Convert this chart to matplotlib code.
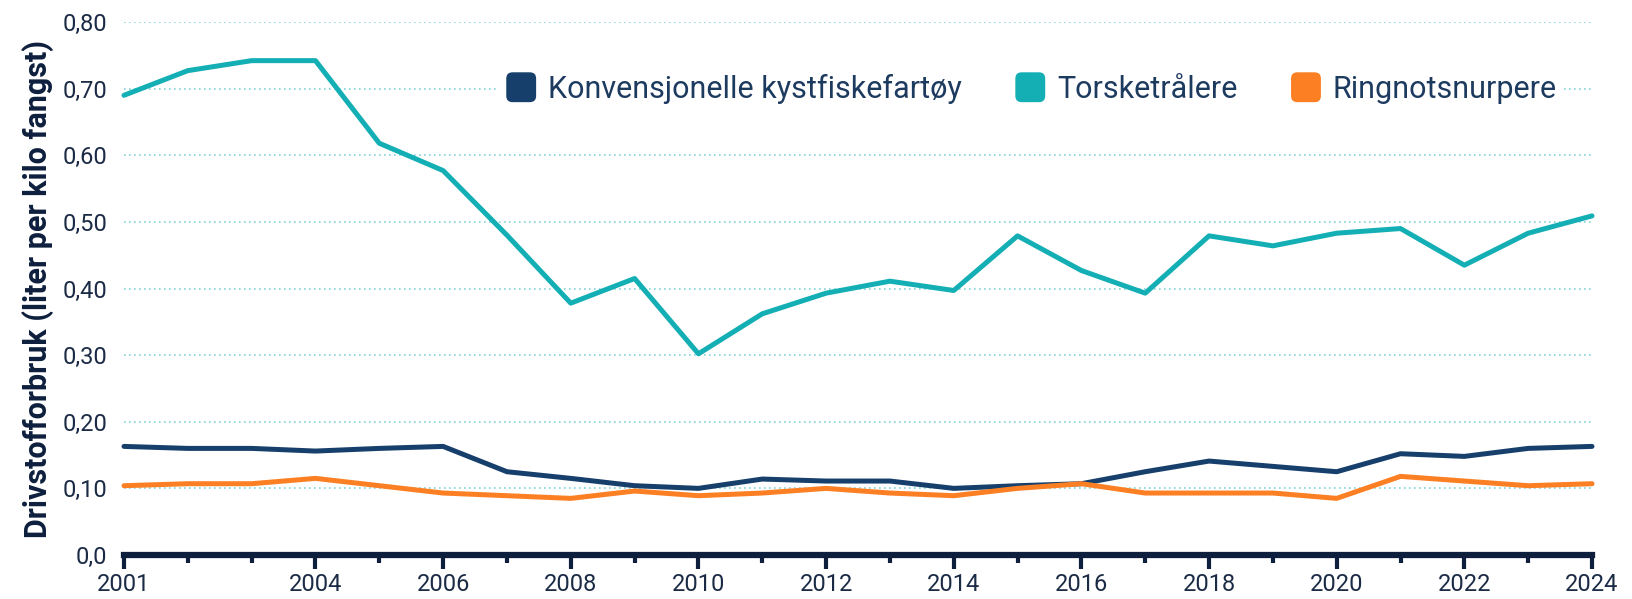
import matplotlib
matplotlib.use("Agg")
import matplotlib.pyplot as plt
from matplotlib.patches import FancyBboxPatch
from matplotlib.legend_handler import HandlerBase
from matplotlib.ticker import FixedLocator, FuncFormatter

years = list(range(2001, 2025))

konvensjonelle = [0.163, 0.160, 0.160, 0.156, 0.160, 0.163, 0.125, 0.115, 0.104, 0.100,
                  0.114, 0.111, 0.111, 0.100, 0.104, 0.107, 0.125, 0.141, 0.133, 0.125,
                  0.152, 0.148, 0.160, 0.163]
torsketralere = [0.690, 0.727, 0.742, 0.742, 0.618, 0.577, 0.480, 0.378, 0.415, 0.302,
                 0.362, 0.393, 0.411, 0.397, 0.479, 0.427, 0.393, 0.479, 0.464, 0.483,
                 0.490, 0.435, 0.483, 0.509]
ringnot = [0.104, 0.107, 0.107, 0.115, 0.104, 0.093, 0.089, 0.085, 0.096, 0.089,
           0.093, 0.100, 0.093, 0.089, 0.100, 0.107, 0.093, 0.093, 0.093, 0.085,
           0.118, 0.111, 0.104, 0.107]

series_names = ["Konvensjonelle kystfiskefartøy", "Torsketrålere", "Ringnotsnurpere"]
series_colors = ["#173f6b", "#13afb4", "#fd7f23"]

labeled_years = [2001, 2004, 2006, 2008, 2010, 2012, 2014, 2016, 2018, 2020, 2022, 2024]
y_ticks = [0.0, 0.1, 0.2, 0.3, 0.4, 0.5, 0.6, 0.7, 0.8]

text_color = "#1b2b45"
axis_color = "#0d1f3c"
legend_text_color = "#1d3a5f"
grid_color = "#82d4d7"

plt.rcParams["font.family"] = ["Roboto", "DejaVu Sans"]

fig = plt.figure(figsize=(16.33, 5.99), dpi=100)
ax = fig.add_axes([124 / 1633, 1 - 555 / 599, (1592 - 124) / 1633, (555 - 22) / 599])

for vals, name, col in zip([konvensjonelle, torsketralere, ringnot], series_names, series_colors):
    ax.plot(years, vals, color=col, lw=3.6, label=name, solid_joinstyle="round",
            solid_capstyle="round", clip_on=False, zorder=3)

ax.set_xlim(2001, 2024)
ax.set_ylim(0, 0.8)

# horizontal dotted grid
for v in y_ticks[1:]:
    ax.axhline(v, color=grid_color, lw=1.2, ls=(0, (1, 2)), zorder=1)

for s in ["top", "right", "left"]:
    ax.spines[s].set_visible(False)
ax.spines["bottom"].set_color(axis_color)
ax.spines["bottom"].set_linewidth(4.5)
ax.spines["bottom"].set_capstyle("projecting")

ax.xaxis.set_major_locator(FixedLocator(labeled_years))
ax.xaxis.set_minor_locator(FixedLocator([y for y in years if y not in labeled_years]))
ax.tick_params(axis="x", which="major", length=10, width=3, color=axis_color,
               labelsize=17, labelcolor=text_color, pad=3)
ax.tick_params(axis="x", which="minor", length=6, width=3, color=axis_color)

ax.set_yticks(y_ticks)
ax.yaxis.set_major_formatter(FuncFormatter(
    lambda v, p: "0,0" if v == 0 else f"{v:.2f}".replace(".", ",")))
ax.tick_params(axis="y", length=0, labelsize=17, labelcolor=text_color, pad=12)

ax.set_ylabel("Drivstofforbruk (liter per kilo fangst)", fontsize=22, fontweight="bold",
              color=axis_color)
ax.yaxis.set_label_coords((54 - 124) / 1468, 0.5)


class RoundedSquareHandler(HandlerBase):
    def create_artists(self, legend, orig_handle, xdescent, ydescent, width, height,
                       fontsize, trans):
        size = 21.5
        r = 4.5
        x0 = -xdescent + (width - size) / 2
        y0 = -ydescent + (height - size) / 2
        patch = FancyBboxPatch((x0 + r, y0 + r), size - 2 * r, size - 2 * r,
                               boxstyle=f"round,pad={r},rounding_size={r}",
                               facecolor=orig_handle.get_color(), edgecolor="none",
                               transform=trans)
        return [patch]


handles = ax.get_lines()
leg = ax.legend(handles=handles, labels=series_names, loc="center left",
                bbox_to_anchor=((483 - 124) / 1468, 0.70 / 0.80), ncol=3,
                frameon=True, fontsize=22, handlelength=1.0, handleheight=1.0,
                handletextpad=0.37, columnspacing=1.75, borderpad=0.25,
                handler_map={plt.Line2D: RoundedSquareHandler()})
leg.get_frame().set_facecolor("white")
leg.get_frame().set_edgecolor("none")
leg.get_frame().set_alpha(1)
leg.set_zorder(5)
for t in leg.get_texts():
    t.set_color(legend_text_color)

fig.savefig("out.png", dpi=100, facecolor="white")
